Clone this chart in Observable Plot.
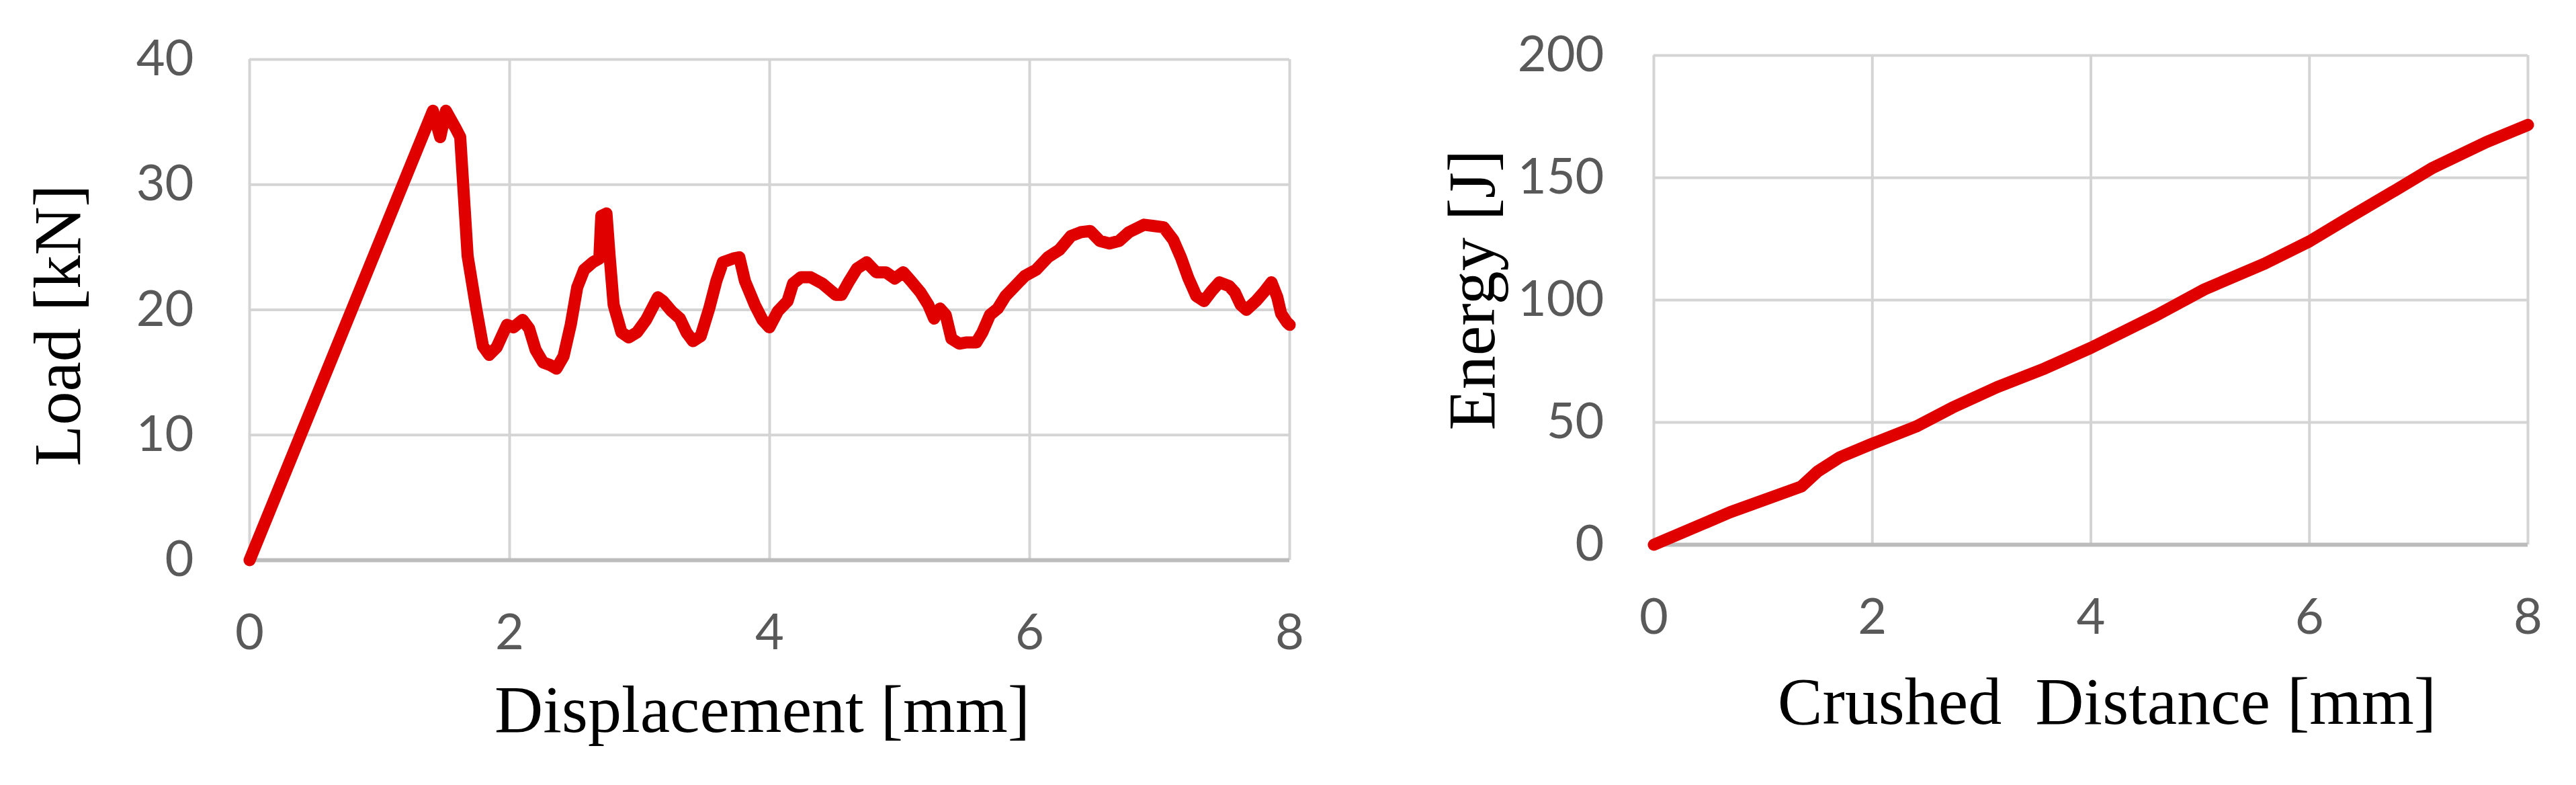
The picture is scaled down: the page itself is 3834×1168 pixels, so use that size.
<!DOCTYPE html>
<html><head><meta charset="utf-8">
<script src="https://cdn.jsdelivr.net/npm/d3@7"></script>
<script src="https://cdn.jsdelivr.net/npm/@observablehq/plot@0.6"></script>
<style>
html,body{margin:0;padding:0;background:#fff;}
#wrap{display:flex;width:3834px;height:1168px;overflow:hidden;}
#wrap svg{flex:none;}
</style></head><body><div id="wrap"></div>
<script>
// Left chart: Load [kN] vs Displacement [mm]
const displacement = [0, 1.41, 1.466, 1.51, 1.585, 1.62, 1.677, 1.743, 1.795, 1.843, 1.90, 1.953, 1.98, 2.03, 2.10, 2.15, 2.20, 2.257, 2.31, 2.36, 2.415, 2.47, 2.52, 2.573, 2.64, 2.69, 2.705, 2.745, 2.77, 2.80, 2.86, 2.916, 2.98, 3.05, 3.14, 3.18, 3.245, 3.31, 3.36, 3.41, 3.47, 3.535, 3.59, 3.64, 3.72, 3.767, 3.81, 3.886, 3.945, 3.998, 4.064, 4.138, 4.18, 4.24, 4.316, 4.405, 4.508, 4.553, 4.612, 4.672, 4.746, 4.82, 4.894, 4.962, 5.028, 5.087, 5.16, 5.22, 5.265, 5.31, 5.354, 5.398, 5.458, 5.517, 5.59, 5.636, 5.695, 5.754, 5.814, 5.888, 5.962, 6.05, 6.14, 6.229, 6.318, 6.392, 6.466, 6.54, 6.614, 6.688, 6.763, 6.88, 6.955, 7.03, 7.104, 7.163, 7.222, 7.282, 7.341, 7.40, 7.46, 7.534, 7.578, 7.623, 7.667, 7.741, 7.80, 7.86, 7.905, 7.934, 7.979, 8.0];
const loadKN = [0, 35.9, 33.8, 35.9, 34.5, 33.8, 24.3, 20.1, 17.1, 16.4, 17.0, 18.2, 18.8, 18.6, 19.2, 18.5, 16.8, 15.8, 15.6, 15.3, 16.3, 18.8, 21.8, 23.2, 23.8, 24.1, 27.5, 27.7, 24.2, 20.4, 18.2, 17.8, 18.2, 19.2, 21.0, 20.7, 19.9, 19.3, 18.2, 17.5, 17.9, 20.1, 22.3, 23.8, 24.1, 24.2, 22.3, 20.4, 19.2, 18.6, 19.9, 20.7, 22.1, 22.6, 22.6, 22.1, 21.2, 21.2, 22.3, 23.3, 23.8, 23.0, 23.0, 22.5, 23.0, 22.3, 21.4, 20.4, 19.3, 20.1, 19.6, 17.7, 17.3, 17.4, 17.4, 18.2, 19.6, 20.1, 21.1, 21.9, 22.7, 23.2, 24.2, 24.8, 25.9, 26.2, 26.3, 25.5, 25.3, 25.5, 26.2, 26.8, 26.7, 26.6, 25.6, 24.2, 22.5, 21.1, 20.7, 21.5, 22.2, 21.9, 21.4, 20.4, 20.0, 20.7, 21.4, 22.2, 21.0, 19.7, 19.0, 18.8];

// Right chart: Energy [J] vs Crushed Distance [mm]
const crushedDistance = [0, 0.7, 1.35, 1.5, 1.7, 2.0, 2.4, 2.73, 3.14, 3.58, 4.0, 4.6, 5.04, 5.59, 6.0, 6.39, 6.79, 7.13, 7.62, 8.0];
const energyJ = [0, 13.3, 23.8, 30.0, 35.7, 41.3, 48.3, 56.0, 64.4, 72.1, 80.5, 93.8, 104.4, 114.9, 124.0, 134.5, 145.0, 154.1, 164.6, 171.6];

const xTicks = [0, 2, 4, 6, 8];
const loadTicks = [0, 10, 20, 30, 40];
const energyTicks = [0, 50, 100, 150, 200];

const TICK_FONT = "Lato, 'Open Sans', sans-serif";
const TITLE_FONT = "'Liberation Serif', 'Times New Roman', serif";

function chart(o) {
  const data = o.xs.map((x, i) => ({x, y: o.ys[i]}));
  return Plot.plot({
    width: o.width, height: 1168,
    marginLeft: o.mL, marginRight: o.mR, marginTop: o.mT, marginBottom: o.mB,
    style: {fontFamily: TICK_FONT, background: "white", overflow: "visible"},
    x: {domain: [0, 8]},
    y: {domain: o.yDomain},
    marks: [
      Plot.gridX(xTicks, {stroke: "#d4d4d4", strokeOpacity: 1, strokeWidth: 4}),
      Plot.gridY(o.yTicks, {stroke: "#d4d4d4", strokeOpacity: 1, strokeWidth: 4}),
      Plot.ruleY([0], {stroke: "#bcbcbc", strokeWidth: 6}),
      Plot.axisX(xTicks, {tickSize: 0, tickPadding: 80, fontSize: 74, fill: "#595959", label: null, tickFormat: d => String(d)}),
      Plot.axisY(o.yTicks, {tickSize: 0, tickPadding: o.yPad, fontSize: 74, fill: "#595959", label: null, tickFormat: d => String(d)}),
      Plot.line(data, {x: "x", y: "y", stroke: "#e00000", strokeWidth: 18, strokeLinejoin: "round", strokeLinecap: "round"}),
      Plot.text([o.xTitle], {text: d => d, frameAnchor: "bottom", textAnchor: "middle", lineAnchor: "middle", dx: o.xdx, dy: o.xdy, fontFamily: TITLE_FONT, fontSize: 100, fill: "black"}),
      Plot.text([o.yTitle], {text: d => d, frameAnchor: "left", textAnchor: "middle", lineAnchor: "middle", rotate: -90, dx: o.ydx, dy: o.ydy, fontFamily: TITLE_FONT, fontSize: 100, fill: "black"})
    ]
  });
}

const wrap = document.getElementById("wrap");
wrap.append(chart({
  width: 1990, mL: 371, mR: 71, mT: 88, mB: 335,
  xs: displacement, ys: loadKN, yDomain: [0, 40], yTicks: loadTicks, yPad: 83,
  xTitle: "Displacement [mm]", xdx: -11, xdy: 223,
  yTitle: "Load [kN]", ydx: -285, ydy: 23
}));
wrap.append(chart({
  width: 1844, mL: 471, mR: 72, mT: 82, mB: 358,
  xs: crushedDistance, ys: energyJ, yDomain: [0, 200], yTicks: energyTicks, yPad: 74,
  xTitle: "Crushed\u00a0 Distance [mm]", xdx: 24, xdy: 234,
  yTitle: "Energy [J]", ydx: -270, ydy: -15
}));
</script></body></html>
